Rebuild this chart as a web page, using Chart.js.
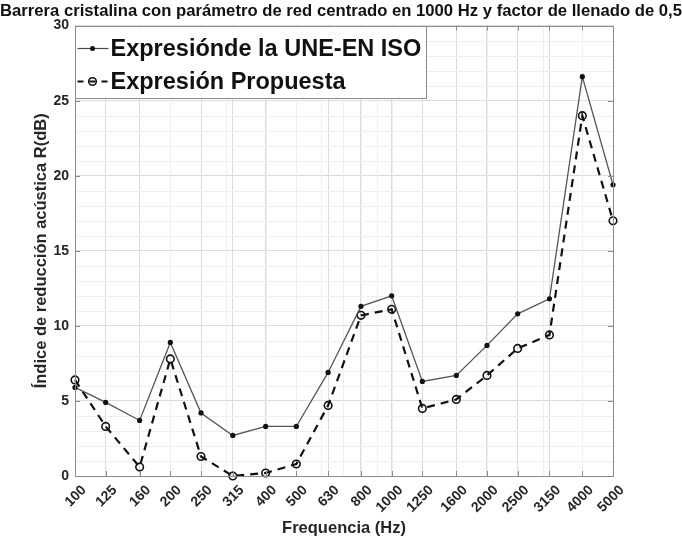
<!DOCTYPE html>
<html>
<head>
<meta charset="utf-8">
<script src="https://cdn.jsdelivr.net/npm/chart.js@4"></script>
<style>
  html, body { margin: 0; padding: 0; background: #fff; }
  #wrap { width: 682px; height: 541px; }
</style>
</head>
<body>
<div id="wrap"><canvas id="myChart" width="682" height="541"></canvas></div>
<script>
const ctx = document.getElementById('myChart');

// bandas de tercio de octava (Hz)
const frecuencias = [100, 125, 160, 200, 250, 315, 400, 500, 630, 800, 1000, 1250, 1600, 2000, 2500, 3150, 4000, 5000];
const rUne = [5.9, 4.9, 3.7, 8.9, 4.2, 2.7, 3.3, 3.3, 6.9, 11.3, 12.0, 6.3, 6.7, 8.7, 10.8, 11.8, 26.6, 19.4];
const rPropuesta = [6.4, 3.3, 0.6, 7.8, 1.3, 0.0, 0.2, 0.8, 4.7, 10.7, 11.1, 4.5, 5.1, 6.7, 8.5, 9.4, 24.0, 17.0];
const yTicks = [0, 5, 10, 15, 20, 25, 30];
const xMinor = [200, 300, 400, 500, 600, 700, 800, 900, 1000, 2000, 3000, 4000];
const yMinor = [1, 2, 3, 4, 6, 7, 8, 9, 11, 12, 13, 14, 16, 17, 18, 19, 21, 22, 23, 24, 26, 27, 28, 29];
const nombres = ['Expresiónde la UNE-EN ISO', 'Expresión Propuesta'];

const FONT = '"Liberation Sans", Arial, Helvetica, sans-serif';

// rejilla menor, caja de ejes y marcas hacia dentro (estilo matlab)
const ejes = {
  id: 'ejes',
  beforeDatasetsDraw(chart) {
    const c = chart.ctx, a = chart.chartArea;
    const x = chart.scales.x, y = chart.scales.y;
    c.save();
    c.strokeStyle = '#efefef';
    c.lineWidth = 1;
    c.beginPath();
    xMinor.forEach(v => {
      const px = Math.round(x.getPixelForValue(v)) + 0.5;
      c.moveTo(px, a.top); c.lineTo(px, a.bottom);
    });
    yMinor.forEach(v => {
      const py = Math.round(y.getPixelForValue(v)) + 0.5;
      c.moveTo(a.left, py); c.lineTo(a.right, py);
    });
    c.stroke();
    c.restore();
  },
  afterDatasetsDraw(chart) {
    const c = chart.ctx, a = chart.chartArea;
    const x = chart.scales.x, y = chart.scales.y;
    c.save();
    c.strokeStyle = '#8c8c8c';
    c.lineWidth = 1;
    c.beginPath();
    frecuencias.forEach(v => {
      const px = Math.round(x.getPixelForValue(v)) + 0.5;
      c.moveTo(px, a.bottom); c.lineTo(px, a.bottom - 5);
      c.moveTo(px, a.top); c.lineTo(px, a.top + 5);
    });
    yTicks.forEach(v => {
      const py = Math.round(y.getPixelForValue(v)) + 0.5;
      c.moveTo(a.left, py); c.lineTo(a.left + 5, py);
      c.moveTo(a.right, py); c.lineTo(a.right - 5, py);
    });
    c.stroke();
    c.strokeRect(Math.round(a.left) + 0.5, Math.round(a.top) + 0.5, Math.round(a.right - a.left), Math.round(a.bottom - a.top));
    c.restore();
  }
};

// leyenda dentro del area, arriba a la izquierda
const leyenda = {
  id: 'leyenda',
  afterDraw(chart) {
    const c = chart.ctx, a = chart.chartArea;
    const bx = Math.round(a.left) + 0.5, by = Math.round(a.top) + 0.5;
    const w = 351, h = 72;
    c.save();
    c.fillStyle = '#fff';
    c.fillRect(bx, by, w, h);
    c.strokeStyle = '#8c8c8c';
    c.lineWidth = 1;
    c.strokeRect(bx, by, w, h);

    // fila 1: linea continua con punto
    let ly = by + 22;
    c.strokeStyle = '#4a4a4a';
    c.lineWidth = 1.2;
    c.beginPath(); c.moveTo(bx + 2, ly); c.lineTo(bx + 33, ly); c.stroke();
    c.fillStyle = '#111';
    c.beginPath(); c.arc(bx + 17, ly, 2.5, 0, Math.PI * 2); c.fill();

    // fila 2: discontinua con circulo
    let ly2 = by + 55;
    c.strokeStyle = '#111';
    c.lineWidth = 2;
    c.setLineDash([6, 6]);
    c.beginPath(); c.moveTo(bx + 2, ly2); c.lineTo(bx + 33, ly2); c.stroke();
    c.setLineDash([]);
    c.lineWidth = 1.6;
    c.beginPath(); c.arc(bx + 17, ly2, 3.8, 0, Math.PI * 2); c.stroke();

    c.fillStyle = '#111';
    c.font = 'bold 23.5px ' + FONT;
    c.textBaseline = 'middle';
    c.textAlign = 'left';
    c.fillText(nombres[0], bx + 35, ly + 1);
    c.fillText(nombres[1], bx + 35, ly2 + 1);
    c.restore();
  }
};

const data = {
  datasets: [
    {
      label: nombres[0],
      data: frecuencias.map((f, i) => ({x: f, y: rUne[i]})),
      borderColor: '#555555',
      borderWidth: 1.3,
      pointRadius: 2.6,
      pointBackgroundColor: '#111',
      pointBorderColor: '#111',
      pointBorderWidth: 0,
      tension: 0,
      clip: 10
    },
    {
      label: nombres[1],
      data: frecuencias.map((f, i) => ({x: f, y: rPropuesta[i]})),
      borderColor: '#111111',
      borderWidth: 2.2,
      borderDash: [8, 6],
      pointRadius: 3.8,
      pointBackgroundColor: 'rgba(0,0,0,0)',
      pointBorderColor: '#111',
      pointBorderWidth: 1.6,
      tension: 0,
      clip: 10
    }
  ]
};

const config = {
  type: 'line',
  data: data,
  options: {
    responsive: false,
    animation: false,
    events: [],
    layout: { padding: 0 },
    scales: {
      x: {
        type: 'logarithmic',
        min: 100,
        max: 5000,
        afterBuildTicks: s => { s.ticks = frecuencias.map(v => ({value: v})); },
        afterFit: s => { s.height = 65; },
        ticks: {
          callback: v => String(v),
          minRotation: 45,
          maxRotation: 45,
          autoSkip: false,
          padding: 6,
          labelOffset: 9,
          color: '#262626',
          font: { family: FONT, size: 14, weight: 'bold' }
        },
        grid: { color: '#dcdcdc', drawTicks: false },
        border: { display: false },
        title: {
          display: true,
          text: 'Frequencia (Hz)',
          color: '#262626',
          padding: { top: 0, bottom: 3 },
          font: { family: FONT, size: 16.5, weight: 'bold' }
        }
      },
      y: {
        min: 0,
        max: 30,
        afterBuildTicks: s => { s.ticks = yTicks.map(v => ({value: v})); },
        afterFit: s => { s.width = 75; },
        ticks: {
          padding: 6,
          color: '#262626',
          font: { family: FONT, size: 14, weight: 'bold' }
        },
        grid: { color: '#dcdcdc', drawTicks: false },
        border: { display: false },
        title: {
          display: true,
          text: 'Índice de reducción acústica R(dB)',
          color: '#262626',
          padding: { top: 32, bottom: 0 },
          font: { family: FONT, size: 16.5, weight: 'bold' }
        }
      },
      // margen derecho vacio
      margen: {
        position: 'right',
        min: 0,
        max: 30,
        afterFit: s => { s.width = 69; },
        ticks: { display: false },
        grid: { display: false },
        border: { display: false }
      }
    },
    plugins: {
      legend: { display: false },
      tooltip: { enabled: false },
      title: {
        display: true,
        text: 'Barrera cristalina con parámetro de red centrado en 1000 Hz y factor de llenado de 0,5',
        color: '#111',
        padding: { top: 1, bottom: 4 },
        font: { family: FONT, size: 17.2, weight: 'bold' }
      }
    }
  },
  plugins: [ejes, leyenda]
};

const myChart = new Chart(ctx, config);
</script>
</body>
</html>
